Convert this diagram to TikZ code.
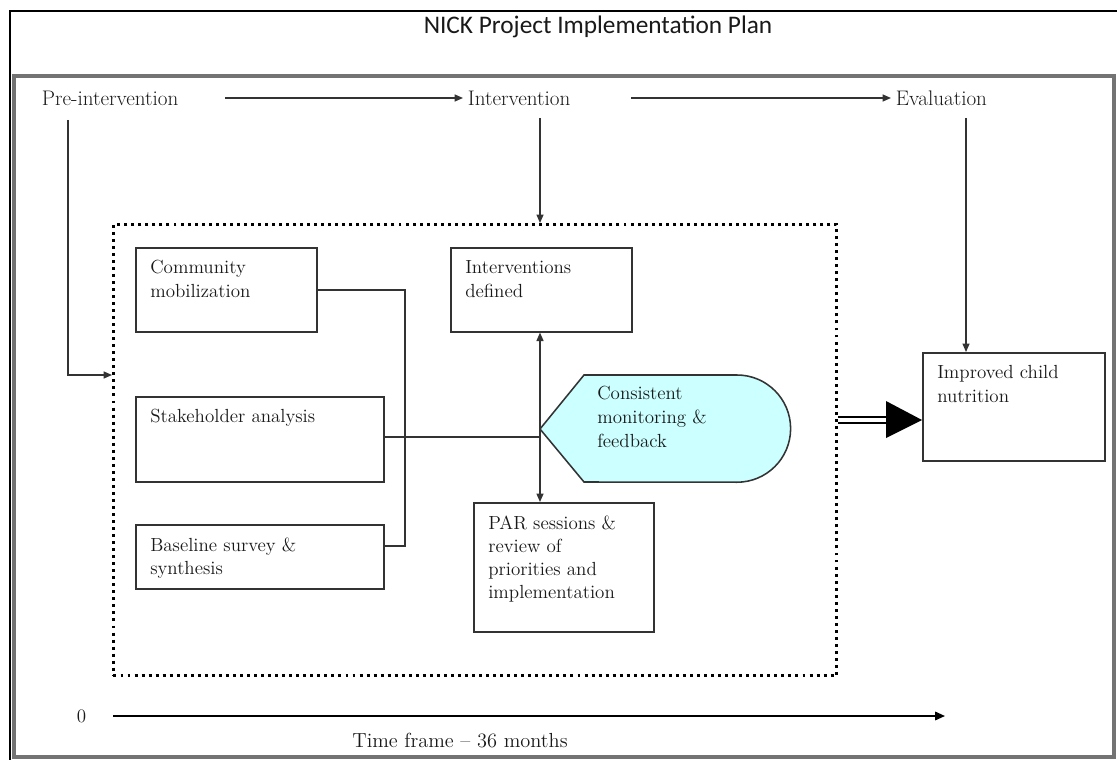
\documentclass[tikz,border=0pt]{standalone}
\usepackage{fontspec}
\setsansfont{Carlito}
\usetikzlibrary{arrows.meta,positioning}
\definecolor{monfill}{HTML}{CCFFFF}

\begin{document}
\begin{tikzpicture}[
        x=0.025cm, y=-0.025cm,
        font=\fontsize{13.5}{17}\selectfont,
        every node/.style={text=black!90},
        stagebox/.style={
            rectangle, draw=black!80, line width=1.1pt,
            anchor=north west, inner sep=0pt
        },
        boxtext/.style={
            anchor=north west, align=left, inner sep=0pt,
            font=\fontsize{13.5}{17}\selectfont
        },
        stage/.style={font=\fontsize{15}{17}\selectfont},
        link/.style={draw=black!80, line width=0.9pt},
        tip/.style={-{Triangle[length=6pt,width=5pt]}}
    ]
        \useasboundingbox (0,0) rectangle (1117,760);

        % Rahmen
        \draw[black, line width=1pt] (10,760) -- (10,11) -- (1117,11);
        \node[font=\sffamily\fontsize{18}{20}\selectfont] (title) at (598,27) {NICK Project Implementation Plan};
        \draw[black!55, line width=2.2pt] (14,76) rectangle (1114,757);

        % Phasen
        \node[stage, anchor=west] (pre) at (37,98) {Pre-intervention};
        \node[stage, anchor=west] (int) at (463,98) {Intervention};
        \node[stage, anchor=west] (eva) at (891,98) {Evaluation};
        \draw[link, tip] (int.west -| 225,0) -- (int.west);
        \draw[link, tip] (eva.west -| 631,0) -- (eva.west);

        % Rahmen der Aktivitaeten
        \node[draw, dash pattern=on 2.1pt off 2.9pt, line width=2.1pt,
              minimum width=18.08cm, minimum height=11.28cm, anchor=north west] (frame) at (112,223) {};

        % Vorbereitung
        \node[stagebox, minimum width=4.53cm, minimum height=2.1cm] (comm) at (135,247) {};
        \node[boxtext] (commtxt) at ([xshift=0.375cm, yshift=-0.33cm]comm.north west) {Community\\mobilization};
        \node[stagebox, minimum width=6.2cm, minimum height=2.13cm] (stake) at (135,396) {};
        \node[boxtext] (staketxt) at ([xshift=0.375cm, yshift=-0.33cm]stake.north west) {Stakeholder analysis};
        \node[stagebox, minimum width=6.2cm, minimum height=1.6cm] (base) at (135,524) {};
        \node[boxtext] (basetxt) at ([xshift=0.375cm, yshift=-0.33cm]base.north west) {Baseline survey \&\\synthesis};

        % Intervention
        \node[stagebox, minimum width=4.53cm, minimum height=2.1cm] (defd) at (450,247) {};
        \node[boxtext] (defdtxt) at ([xshift=0.375cm, yshift=-0.33cm]defd.north west) {Interventions\\defined};
        \node[stagebox, minimum width=4.5cm, minimum height=3.23cm] (par) at (473,502) {};
        \node[boxtext, font=\fontsize{13.5}{16.5}\selectfont] (partxt) at ([xshift=0.375cm, yshift=-0.33cm]par.north west)
            {PAR sessions \&\\review of\\priorities and\\implementation};

        % Monitoring
        \coordinate (mon) at (540,429);
        \draw[draw=black!80, line width=1.1pt, fill=monfill]
            (mon) -- (584,375) -- (737,375) arc[start angle=90, end angle=-90, radius=1.34cm]
            -- (584,482) -- cycle;
        \node[boxtext] (montxt) at (597,386) {Consistent\\monitoring \&\\feedback};

        % Ergebnis
        \node[stagebox, minimum width=4.55cm, minimum height=2.7cm] (imp) at (922,352) {};
        \node[boxtext] (imptxt) at ([xshift=0.375cm, yshift=-0.33cm]imp.north west) {Improved child\\nutrition};

        % Verbindungen
        \draw[link, tip] (68,120) -- (68,375) -- (frame.west |- 0,375);
        \draw[link, tip] (540,118) -- (frame.north -| mon);
        \draw[link, tip] (966,118) -- (imp.north -| 966,0);
        \draw[link] (comm.east |- 0,290) -| (405,546) -- (base.east |- 0,546);
        \draw[link] (stake.east |- 0,437) -- (mon |- 0,437);
        \draw[link, {Triangle[length=6pt,width=5pt]}-{Triangle[length=6pt,width=5pt]}] (defd.south -| mon) -- (par.north -| mon);
        \draw[black, double=white, double distance=2.4pt, line width=1.5pt] (frame.east |- 0,420) -- (886,420);
        \fill[black] (886,401) -- (imp.west |- 0,420) -- (886,438) -- cycle;

        % Zeitachse
        \node[anchor=west] (zero) at (72,716) {0};
        \draw[line width=1.3pt, -{Triangle[length=7pt,width=6pt]}] (113,716) -- (945,716);
        \node[font=\fontsize{14.5}{16}\selectfont] (time) at (460,741) {Time frame -- 36 months};

    \end{tikzpicture}
\end{document}
